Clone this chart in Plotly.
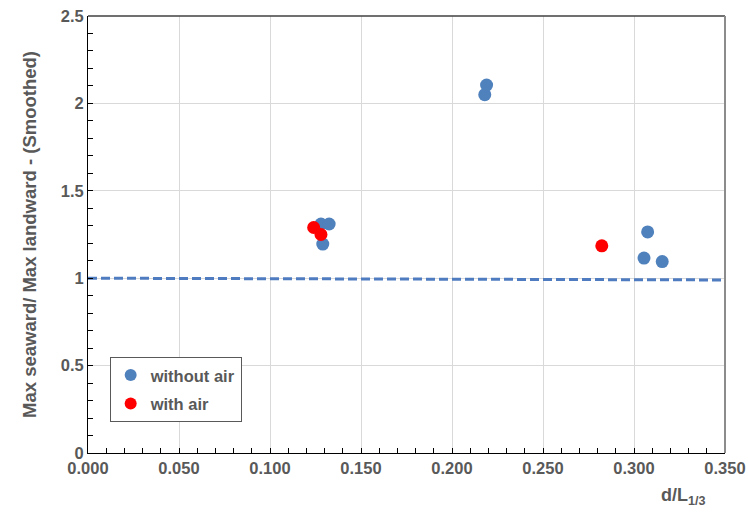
import plotly.graph_objects as go

# d/L1/3 and ratio of max seaward to max landward (smoothed)
without_air_x = [0.128, 0.1325, 0.129, 0.218, 0.219, 0.3075, 0.3055, 0.3155]
without_air_y = [1.31, 1.31, 1.195, 2.05, 2.105, 1.265, 1.115, 1.095]
with_air_x = [0.124, 0.128, 0.2823]
with_air_y = [1.29, 1.25, 1.185]
ref_x = [0.0, 0.35]
ref_y = [1.0, 0.99]

x_ticks = [0.0, 0.05, 0.1, 0.15, 0.2, 0.25, 0.3, 0.35]
x_labels = ["0.000", "0.050", "0.100", "0.150", "0.200", "0.250", "0.300", "0.350"]
y_ticks = [0, 0.5, 1, 1.5, 2, 2.5]
y_labels = ["0", "0.5", "1", "1.5", "2", "2.5"]

text_color = "#595959"
font_family = "Liberation Sans, Arial, sans-serif"
tick_font = dict(family=font_family, size=16.5, color=text_color, weight="bold")

fig = go.Figure()
fig.add_trace(go.Scatter(
    x=ref_x, y=ref_y, mode="lines", showlegend=False,
    line=dict(color="#4f7cc0", width=3, dash="9px,4px"), hoverinfo="skip"))
fig.add_trace(go.Scatter(
    x=without_air_x, y=without_air_y, mode="markers", name="without air",
    legendgroup="a", marker=dict(color="#4f81bd", size=13)))
fig.add_trace(go.Scatter(
    x=with_air_x, y=with_air_y, mode="markers", name="with air",
    legendgroup="b", marker=dict(color="#ff0000", size=13)))

fig.update_layout(
    width=748, height=514,
    margin=dict(l=88, r=23, t=16, b=61, autoexpand=False),
    paper_bgcolor="white", plot_bgcolor="white",
    font=dict(family=font_family, color=text_color, size=16),
    legend=dict(
        x=0.034, y=0.22, xanchor="left", yanchor="top",
        bordercolor="#595959", borderwidth=1, bgcolor="white",
        font=dict(family=font_family, size=16.5, color=text_color, weight="bold"),
        itemsizing="constant", itemwidth=30, tracegroupgap=4, traceorder="grouped",
    ),
    xaxis=dict(
        range=[0, 0.35], tickvals=x_ticks, ticktext=x_labels, automargin=False,
        showgrid=True, gridcolor="#d9d9d9", gridwidth=1, zeroline=False,
        showline=True, linecolor="black", linewidth=1,
        ticks="inside", ticklen=5, tickcolor="black",
        minor=dict(dtick=0.01, ticks="inside", ticklen=5, tickcolor="black", showgrid=False),
        tickfont=tick_font,
    ),
    yaxis=dict(
        range=[0, 2.5], tickvals=y_ticks, ticktext=y_labels, automargin=False,
        showgrid=True, gridcolor="#d9d9d9", gridwidth=1, zeroline=False,
        showline=True, linecolor="black", linewidth=1,
        ticks="inside", ticklen=5, tickcolor="black",
        minor=dict(dtick=0.1, ticks="inside", ticklen=5, tickcolor="black", showgrid=False),
        tickfont=tick_font,
        title=dict(text="Max seaward/ Max landward - (Smoothed)", standoff=19,
                   font=dict(family=font_family, size=18.5, color=text_color, weight="bold")),
    ),
    shapes=[
        dict(type="line", xref="paper", yref="paper", x0=0, x1=1, y0=1, y1=1,
             line=dict(color="#404040", width=1.5)),
        dict(type="line", xref="paper", yref="paper", x0=1, x1=1, y0=0, y1=1,
             line=dict(color="#8c8c8c", width=2)),
    ],
    annotations=[
        dict(text="d/L<sub>1/3</sub>", xref="paper", yref="paper",
             x=0.935, y=-0.1, xanchor="center", yanchor="middle", showarrow=False,
             font=dict(family=font_family, size=18, color=text_color, weight="bold")),
    ],
)

fig.write_html("out.html")
